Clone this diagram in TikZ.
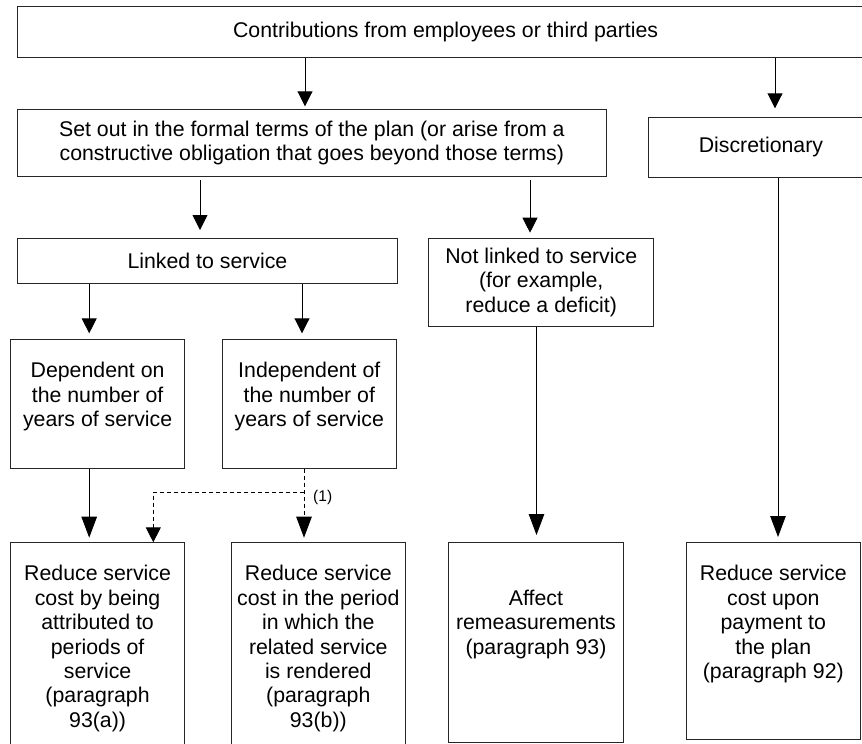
\documentclass[tikz,border=0pt]{standalone}
\usepackage{fontspec}
\setmainfont{Liberation Sans}
\usetikzlibrary{arrows.meta,calc}
\begin{document}
\begin{tikzpicture}[x=1pt,y=-1pt,
  box/.style={draw=black!85, line width=0.9pt, inner sep=0pt, rectangle, anchor=north west, align=center,
    font=\fontsize{21.3}{24.4}\selectfont},
  txt/.style={inner sep=0pt, align=center, anchor=north, font=\fontsize{21.3}{24.4}\selectfont},
  arrS/.style={line width=0.9pt, -{Triangle[length=15pt,width=15pt]}},
  arrL/.style={line width=0.9pt, -{Triangle[length=21pt,width=15.5pt]}},
  dsh/.style={dash pattern=on 4pt off 3pt}]
\useasboundingbox (0,0) rectangle (862,744);
\clip (0,0) rectangle (862,744);
% boxes
\node[box, minimum width=855.7pt, minimum height=51pt] (top) at (17.3,5.7) {Contributions from employees or third parties};
\node[box, minimum width=588.2pt, minimum height=66.7pt] (setout) at (17.3,109.3)
  {Set out in the formal terms of the plan (or arise from a\\constructive obligation that goes beyond those terms)};
\node[box, minimum width=225pt, minimum height=60pt] (disc) at (648,116.7) {Discretionary};
\node[box, minimum width=379.4pt, minimum height=45pt] (linked) at (17.3,238) {Linked to service};
\node[box, minimum width=225pt, minimum height=88pt] (notlinked) at (428.3,237.7)
  {Not linked to service\\(for example,\\reduce a deficit)};
\node[box, minimum width=174.3pt, minimum height=128.4pt] (dep) at (10,339.3) {};
\node[box, minimum width=174.3pt, minimum height=128.4pt] (indep) at (221.7,339.3) {};
\node[box, minimum width=174.3pt, minimum height=220pt] (red1) at (10,542.3) {};
\node[box, minimum width=174.3pt, minimum height=220pt] (red2) at (230.7,542.3) {};
\node[box, minimum width=174.4pt, minimum height=199.4pt] (affect) at (448.3,542.3) {};
\node[box, minimum width=174.3pt, minimum height=196.7pt] (redup) at (685.7,542.3) {};
% texts of top-aligned boxes
\node[txt] (depT) at ($(dep.north)+(0,23)$) {Dependent on\\the number of\\years of service};
\node[txt] (indepT) at ($(indep.north)+(0,23)$) {Independent of\\the number of\\years of service};
\node[txt] (red1T) at ($(red1.north)+(0,23)$) {Reduce service\\cost by being\\attributed to\\periods of\\service\\(paragraph\\93(a))};
\node[txt] (red2T) at ($(red2.north)+(0,23)$) {Reduce service\\cost in the period\\in which the\\related service\\is rendered\\(paragraph\\93(b))};
\node[txt] (affectT) at ($(affect.north)+(0,47.4)$) {Affect\\remeasurements\\(paragraph 93)};
\node[txt] (redupT) at ($(redup.north)+(0,23)$) {Reduce service\\cost upon\\payment to\\the plan\\(paragraph 92)};
% connector columns
\coordinate (xA) at (305,0);
\coordinate (xB) at (775,0);
\coordinate (xC) at (200,0);
\coordinate (xD) at (530,0);
\coordinate (xE) at (89.2,0);
\coordinate (xF) at (302,0);
\coordinate (xG) at (536.5,0);
\coordinate (xH) at (778,0);
\coordinate (xI) at (304,0);
\coordinate (xJ) at (153.3,0);
\coordinate (br) at (304,492.3);
% connectors
\draw[arrS, shorten >=3pt] (top.south -| xA) -- (setout.north -| xA);
\draw[arrS, shorten >=8.4pt] (top.south -| xB) -- (disc.north -| xB);
\draw[arrS, shorten <=3pt, shorten >=8pt] (setout.south -| xC) -- (linked.north -| xC);
\draw[arrS, shorten <=3pt, shorten >=5pt] (setout.south -| xD) -- (notlinked.north -| xD);
\draw[arrS, shorten >=6pt] (linked.south -| xE) -- (dep.north -| xE);
\draw[arrS, shorten >=6pt] (linked.south -| xF) -- (indep.north -| xF);
\draw[arrL, shorten >=4.6pt] (dep.south -| xE) -- (red1.north -| xE);
\draw[arrL, dsh, shorten >=4.6pt] (indep.south -| xI) -- (red2.north -| xI);
\draw[arrS, dsh] (br) -| (red1.north -| xJ);
\draw[arrL, shorten >=7.3pt] (notlinked.south -| xG) -- (affect.north -| xG);
\draw[arrL, shorten >=5.3pt] (disc.south -| xH) -- (redup.north -| xH);
\node[inner sep=0pt, font=\fontsize{15.5}{18}\selectfont] (lbl) at (322.7,497.3) {(1)};
\end{tikzpicture}
\end{document}
